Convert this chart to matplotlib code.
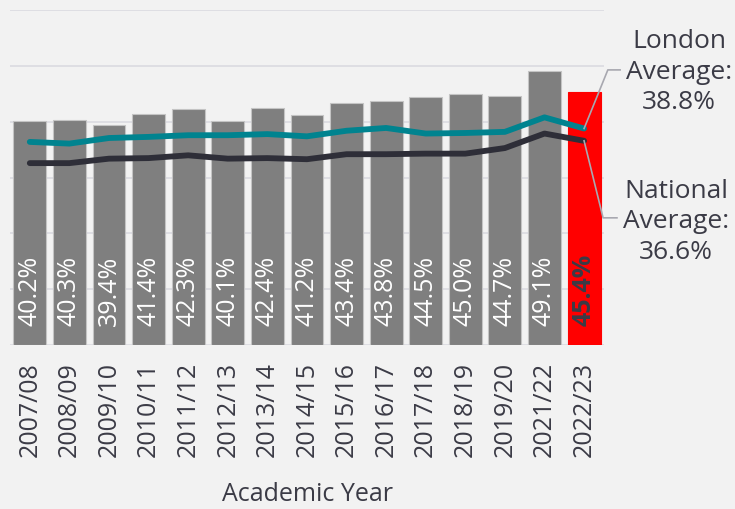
import matplotlib.pyplot as plt
import numpy as np

plt.rcParams['font.family'] = ['Open Sans', 'DejaVu Sans']

years = ['2007/08', '2008/09', '2009/10', '2010/11', '2011/12', '2012/13', '2013/14',
         '2014/15', '2015/16', '2016/17', '2017/18', '2018/19', '2019/20', '2021/22', '2022/23']
school = [40.2, 40.3, 39.4, 41.4, 42.3, 40.1, 42.4, 41.2, 43.4, 43.8, 44.5, 45.0, 44.7, 49.1, 45.4]
london = [36.4, 36.1, 37.1, 37.3, 37.6, 37.6, 37.8, 37.4, 38.4, 38.9, 37.9, 38.0, 38.2, 40.8, 38.8]
national = [32.6, 32.6, 33.4, 33.5, 34.0, 33.4, 33.5, 33.3, 34.2, 34.2, 34.3, 34.3, 35.3, 37.9, 36.6]

bg = '#f2f2f2'
txt = '#3b3b46'
lead = '#a8a8b0'

fig = plt.figure(figsize=(7.35, 5.09), dpi=100, facecolor=bg)
ax = fig.add_axes([0.0136, 0.322, 0.808, 0.658], facecolor=bg)

x = np.arange(len(years))
colors = ['#7f7f7f'] * (len(years) - 1) + ['#ff0000']
edges = ['#c4c4c4'] * (len(years) - 1) + ['#ff0000']
ax.bar(x, school, width=0.83, color=colors, edgecolor=edges, linewidth=0.8, zorder=2)

ax.plot(x, london, color='#00838f', lw=4.2, solid_capstyle='round', zorder=3)
ax.plot(x, national, color='#2e2e38', lw=4.2, solid_capstyle='round', zorder=3)

# value labels inside bars
for i, v in enumerate(school):
    last = i == len(school) - 1
    ax.text(i, 3.4, f'{v:.1f}%', rotation=90, ha='center', va='bottom',
            fontsize=18, color=txt if last else 'white',
            fontweight='bold' if last else 'normal', zorder=4)

ax.set_xlim(-0.5, len(years) - 0.5)
ax.set_ylim(0, 60)
ax.set_yticks(np.arange(0, 61, 10))
ax.yaxis.grid(True, color='#dcdce2', lw=1.3, zorder=0)
ax.tick_params(axis='y', left=False, labelleft=False)
ax.set_xticks(x)
ax.set_xticklabels(years, rotation=90, fontsize=18, color=txt)
ax.tick_params(axis='x', length=0, pad=12)
for s in ax.spines.values():
    s.set_visible(False)

# leader lines to side labels
n = len(years) - 1
ax.plot([n, n + 0.6, n + 0.91], [london[-1], 49.3, 49.3], color=lead, lw=1.2,
        clip_on=False, zorder=5)
ax.plot([n, n + 0.48, n + 0.83], [national[-1], 22.8, 22.8], color=lead, lw=1.2,
        clip_on=False, zorder=5)

fig.text(0.924, 0.858, 'London\nAverage:\n38.8%', ha='center', va='center',
         fontsize=19, color=txt, linespacing=1.3)
fig.text(0.92, 0.564, 'National\nAverage:\n36.6%', ha='center', va='center',
         fontsize=19, color=txt, linespacing=1.3)

fig.text(0.418, 0.016, 'Academic Year', ha='center', va='baseline', fontsize=18, color=txt)

plt.savefig('out.png', facecolor=bg)
